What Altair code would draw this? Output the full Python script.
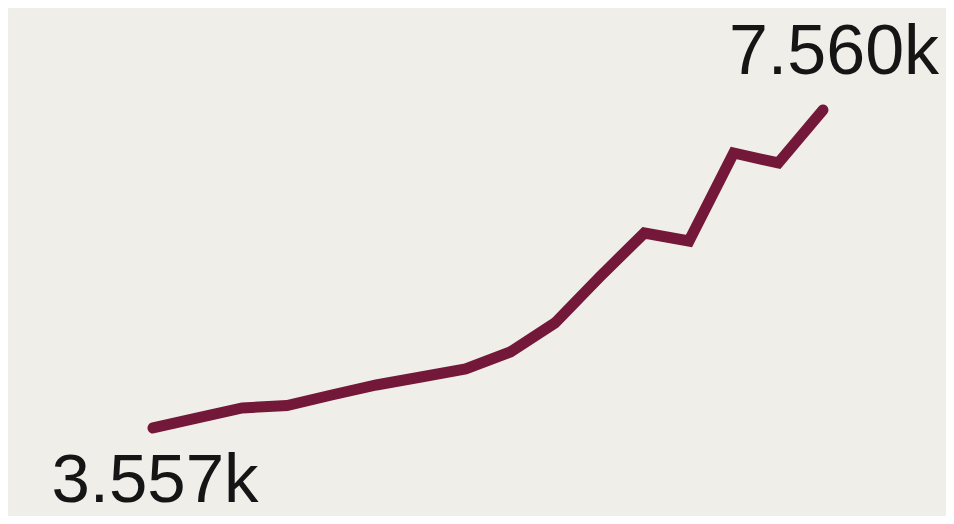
import altair as alt
import pandas as pd

# data
steps = list(range(16))
values = [3557, 3683, 3809, 3840, 3972, 4098, 4199, 4300, 4514, 4879,
          5458, 6012, 5911, 7019, 6893, 7560]
label_texts = ["3.557k", "7.560k"]

df = pd.DataFrame({"step": steps, "value": values})
lab = pd.DataFrame({
    "step": [steps[0], steps[-1]],
    "value": [values[0], values[-1]],
    "text": label_texts,
    "pos": ["start", "end"],
})

W, H = 938, 508
xs = alt.Scale(domain=[-3.246, 17.754], nice=False, zero=False)
ys = alt.Scale(domain=[2449, 8844], nice=False, zero=False)

line = alt.Chart(df).mark_line(
    color="#741839", strokeWidth=11, strokeCap="round", strokeJoin="miter"
).encode(
    x=alt.X("step:Q", scale=xs, axis=None),
    y=alt.Y("value:Q", scale=ys, axis=None),
)

start = alt.Chart(lab[lab.pos == "start"]).mark_text(
    font="Liberation Sans", fontSize=69, color="#151515",
    align="center", baseline="bottom", dx=2, dy=88,
).encode(x=alt.X("step:Q", scale=xs, axis=None),
         y=alt.Y("value:Q", scale=ys, axis=None), text="text:N")

end = alt.Chart(lab[lab.pos == "end"]).mark_text(
    font="Liberation Sans", fontSize=70, color="#151515",
    align="center", baseline="alphabetic", dx=11, dy=-36,
).encode(x=alt.X("step:Q", scale=xs, axis=None),
         y=alt.Y("value:Q", scale=ys, axis=None), text="text:N")

chart = alt.layer(line, start, end).properties(
    width=W, height=H, padding=0, autosize=alt.AutoSizeParams(type="none"),
    background="#efeee9",
).configure_view(stroke=None)

chart.save("out.html", embed_options={"renderer": "svg", "actions": False})
